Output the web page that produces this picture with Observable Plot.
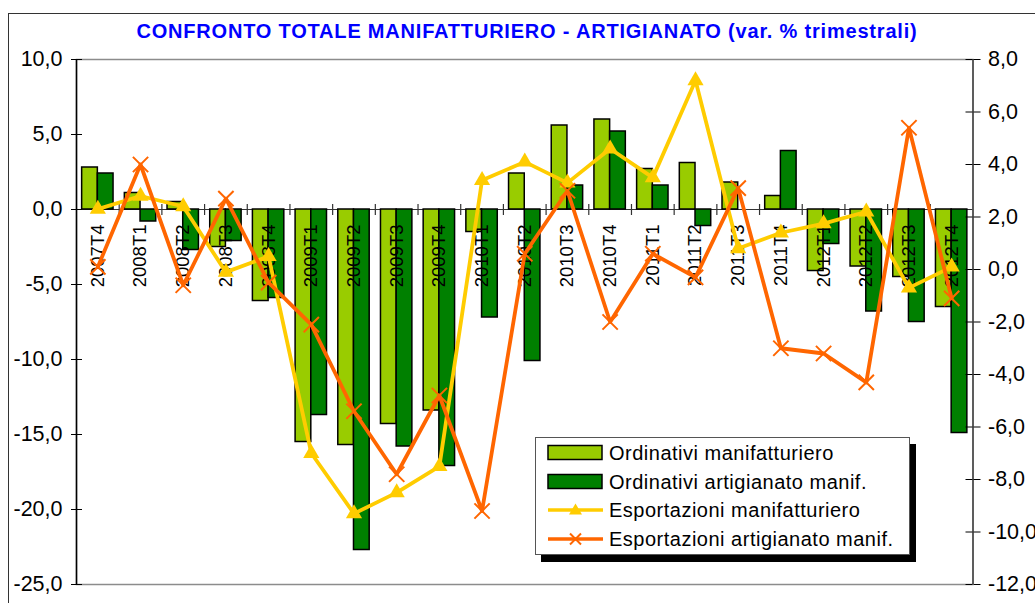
<!DOCTYPE html>
<html>
<head>
<meta charset="utf-8">
<script src="https://cdn.jsdelivr.net/npm/d3@7"></script>
<script src="https://cdn.jsdelivr.net/npm/@observablehq/plot@0.6"></script>
<style>
  body { margin: 0; background: #fff; font-family: "Liberation Sans", Arial, sans-serif; }
  #wrap { position: relative; width: 1035px; height: 603px; overflow: hidden; background: #fff; }
  #frame { position: absolute; left: 8px; top: 13px; width: 1100px; height: 700px; border: 1.5px solid #333; box-sizing: border-box; }
  #title { position: relative; height: 45px; box-sizing: border-box; padding-top: 19px; padding-left: 19px;
           line-height: 24px; font-size: 20px; font-weight: bold; color: #0000FF; text-align: center; letter-spacing: 0.8px; white-space: nowrap; }
  #chart { position: relative; height: 558px; }
  #legend { position: absolute; left: 535px; top: 437px; width: 375px; height: 118px; box-sizing: border-box;
            background: #fff; border: 1px solid #555; box-shadow: 6px 7px 0 #000; padding-top: 1px; }
  #legend .row { position: relative; height: 28.5px; display: flex; align-items: center; }
  #legend svg { position: absolute; left: 11px; top: 5px; }
  #legend span { position: absolute; left: 73px; font-size: 20px; letter-spacing: 0.5px; color: #000; white-space: nowrap; line-height: 28.5px; top: 0; }
</style>
</head>
<body>
<div id="wrap">
  <div id="frame"></div>
  <div id="title">CONFRONTO TOTALE MANIFATTURIERO - ARTIGIANATO (var. % trimestrali)</div>
  <div id="chart"></div>
  <div id="legend"></div>
</div>
<script>
// ---- data ----
const categories = ["2007T4","2008T1","2008T2","2008T3","2008T4","2009T1","2009T2","2009T3","2009T4",
  "2010T1","2010T2","2010T3","2010T4","2011T1","2011T2","2011T3","2011T4","2012T1","2012T2","2012T3","2012T4"];
// left axis (bars)
const ordinativiManif = [2.8, 1.1, 0.5, -2.5, -6.1, -15.5, -15.7, -14.3, -13.4, -1.5, 2.4, 5.6, 6.0, 2.7, 3.1, 1.8, 0.9, -4.1, -3.8, -4.5, -6.5];
const ordinativiArtig = [2.4, -0.8, -2.7, -2.1, -5.9, -13.7, -22.7, -15.8, -17.1, -7.2, -10.1, 1.6, 5.2, 1.6, -1.1, 0.0, 3.9, -2.3, -6.8, -7.5, -14.9];
// right axis (lines)
const esportManif = [2.3, 2.8, 2.4, -0.1, 0.5, -7.0, -9.3, -8.5, -7.5, 3.4, 4.1, 3.3, 4.6, 3.5, 7.2, 0.8, 1.4, 1.75, 2.2, -0.7, 0.1];
const esportArtig = [0.1, 4.0, -0.6, 2.7, -0.5, -2.1, -5.4, -7.8, -4.8, -9.2, 0.6, 3.0, -2.0, 0.6, -0.3, 3.1, -3.0, -3.2, -4.3, 5.4, -1.1];
const seriesNames = ["Ordinativi manifatturiero", "Ordinativi artigianato manif.", "Esportazioni manifatturiero", "Esportazioni artigianato manif."];
const leftTicks = [10, 5, 0, -5, -10, -15, -20, -25];
const rightTicks = [8, 6, 4, 2, 0, -2, -4, -6, -8, -10, -12];

// ---- layout ----
const W = 1035, H = 558, mt = 14, mb = 19, ml = 76, mr = 62.5;
const plotW = W - ml - mr;
const bw = plotW / categories.length;
const barW = 15.7;
const colors = {om: "#99CC00", oa: "#008000", em: "#FFCC00", ea: "#FF6600"};

const leftDom = [-25, 10], rightDom = [-12, 8];
const toLeft = r => leftDom[0] + (r - rightDom[0]) * (leftDom[1] - leftDom[0]) / (rightDom[1] - rightDom[0]);
const fromLeft = l => rightDom[0] + (l - leftDom[0]) * (rightDom[1] - rightDom[0]) / (leftDom[1] - leftDom[0]);
const fmt = v => (Math.round(v * 10) / 10).toFixed(1).replace(".", ",").replace("-0,0", "0,0");

const data = categories.map((c, i) => ({cat: c, om: ordinativiManif[i], oa: ordinativiArtig[i], em: esportManif[i], ea: esportArtig[i]}));

const chart = Plot.plot({
  width: W, height: H, marginTop: mt, marginBottom: mb, marginLeft: ml, marginRight: mr,
  style: {fontFamily: "'Liberation Sans', Arial, sans-serif", fontSize: "21px", color: "#000", background: "transparent", overflow: "visible"},
  x: {type: "band", domain: categories, padding: 0, round: false, axis: null},
  y: {domain: leftDom, axis: null},
  marks: [
    Plot.frame({stroke: "#8c8c8c", strokeWidth: 1.5}),
    Plot.ruleY([0], {stroke: "#333", strokeWidth: 1.2}),
    Plot.barY(data, {x: "cat", y: "om", fill: colors.om, stroke: "#000", strokeWidth: 1.5, insetLeft: bw / 2 - barW, insetRight: bw / 2}),
    Plot.barY(data, {x: "cat", y: "oa", fill: colors.oa, stroke: "#000", strokeWidth: 1.5, insetLeft: bw / 2, insetRight: bw / 2 - barW}),
    Plot.ruleX(categories.slice(1), {x: d => d, y1: 0, y2: 0, dx: -bw / 2, insetTop: -5, insetBottom: -6, stroke: "#333", strokeWidth: 1.2}),
    Plot.text(categories, {x: d => d, y: 0, text: d => d, rotate: -90, textAnchor: "end", dy: 15, fontSize: 18.5, fill: "#000"}),
    Plot.line(data, {x: "cat", y: d => toLeft(d.em), stroke: colors.em, strokeWidth: 3.8}),
    Plot.dot(data, {x: "cat", y: d => toLeft(d.em), symbol: "triangle", fill: colors.em, r: 6}),
    Plot.line(data, {x: "cat", y: d => toLeft(d.ea), stroke: colors.ea, strokeWidth: 3.8}),
    Plot.dot(data, {x: "cat", y: d => toLeft(d.ea), symbol: "times", stroke: colors.ea, strokeWidth: 2, r: 7}),
    Plot.ruleX([categories[0]], {x: d => d, dx: -bw / 2, stroke: "#000", strokeWidth: 1.5}),
    Plot.ruleX([categories[categories.length - 1]], {x: d => d, dx: bw / 2, stroke: "#444", strokeWidth: 1.5}),
    Plot.axisY(leftTicks, {anchor: "left", tickSize: 5, tickPadding: 9, tickFormat: fmt, fontSize: 21.5}),
    Plot.ruleY(leftTicks, {insetRight: plotW - 6, stroke: "#000"}),
    Plot.axisY(rightTicks.map(toLeft), {anchor: "right", tickSize: 7, tickPadding: 8, tickFormat: d => fmt(fromLeft(d)), fontSize: 21.5}),
    Plot.ruleY(rightTicks.map(toLeft), {insetLeft: plotW - 7, stroke: "#000"})
  ]
});
document.getElementById("chart").appendChild(chart);

// ---- legend ----
const swatches = [
  `<svg width="58" height="18"><rect x="1" y="1.5" width="54" height="14" fill="${colors.om}" stroke="#000" stroke-width="1.5"/></svg>`,
  `<svg width="58" height="18"><rect x="1" y="1.5" width="54" height="14" fill="${colors.oa}" stroke="#000" stroke-width="1.5"/></svg>`,
  `<svg width="58" height="18"><line x1="1" x2="56" y1="9" y2="9" stroke="${colors.em}" stroke-width="3.5"/><path d="M28.5,2.5 L35,13.5 L22,13.5 Z" fill="${colors.em}"/></svg>`,
  `<svg width="58" height="18"><line x1="1" x2="56" y1="9" y2="9" stroke="${colors.ea}" stroke-width="3.5"/><path d="M23,3.5 L34,14.5 M34,3.5 L23,14.5" stroke="${colors.ea}" stroke-width="2"/></svg>`
];
document.getElementById("legend").innerHTML = seriesNames.map((n, i) =>
  `<div class="row">${swatches[i]}<span>${n}</span></div>`).join("");
</script>
</body>
</html>
